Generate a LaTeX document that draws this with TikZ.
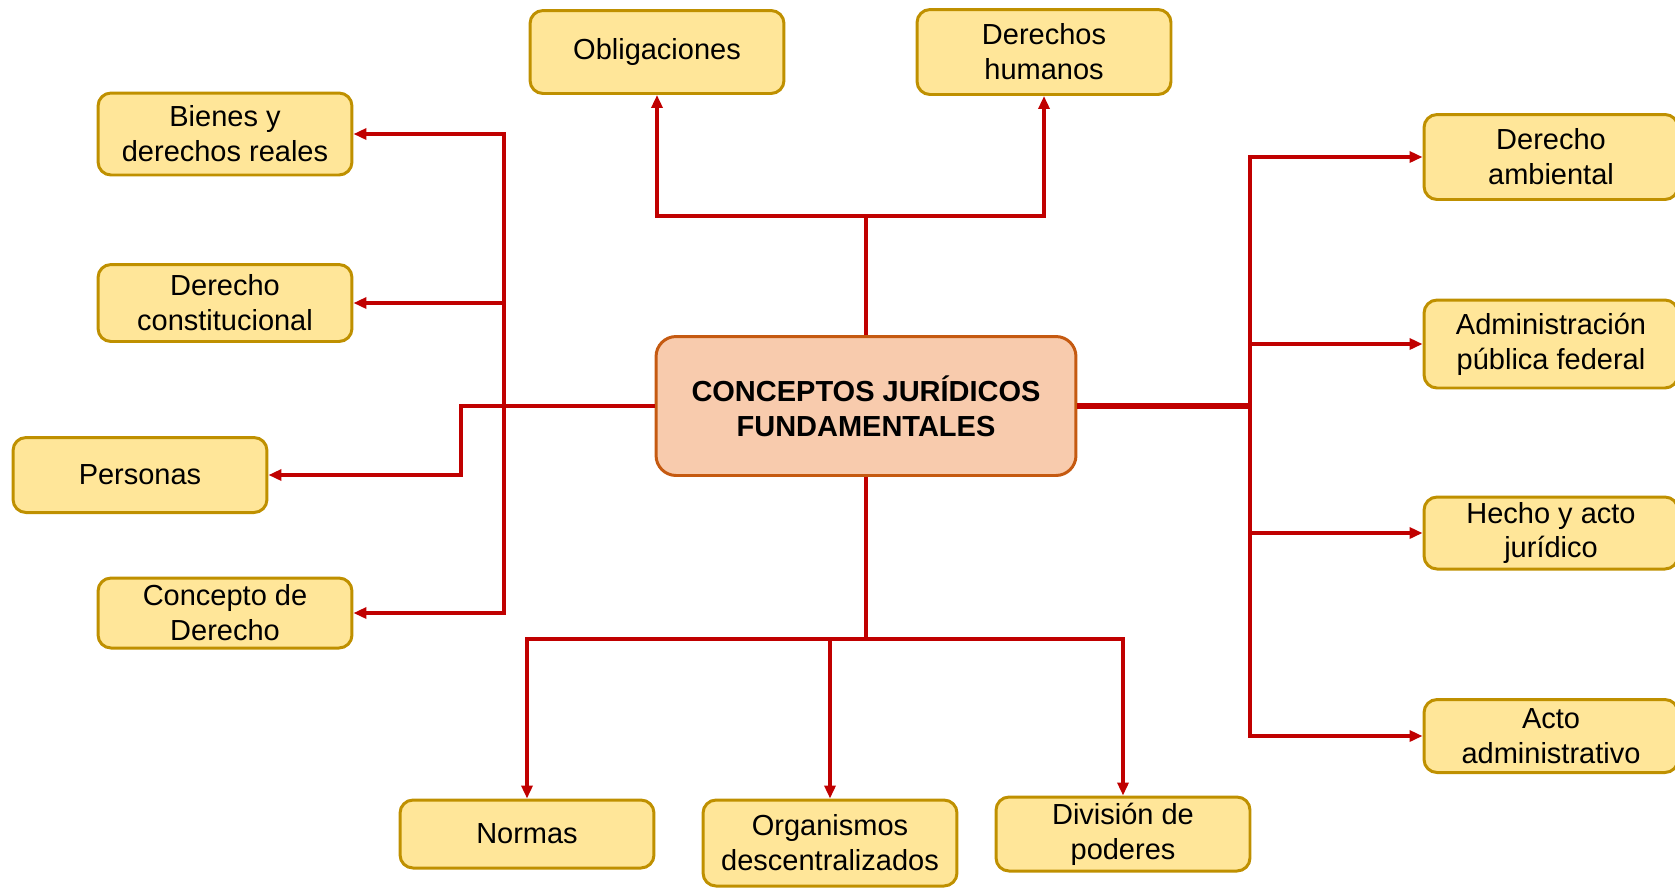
\documentclass[tikz,border=0pt]{standalone}
\usepackage{fontspec}
\setmainfont{Liberation Sans}
\usetikzlibrary{arrows.meta}

\definecolor{leaffill}{HTML}{FFE699}
\definecolor{leafline}{HTML}{BF9000}
\definecolor{corefill}{HTML}{F8CBAD}
\definecolor{coreline}{HTML}{C55A11}
\definecolor{linkred}{HTML}{C00000}

\tikzset{
  leaf/.style={draw=leafline, fill=leaffill, line width=1.7pt, rounded corners=0.26cm,
    minimum width=5.08cm, minimum height=1.5cm, align=center, inner sep=2pt,
    font=\fontsize{16.5}{19.9}\selectfont},
  core/.style={draw=coreline, fill=corefill, line width=1.7pt, rounded corners=0.4cm,
    minimum width=8.4cm, minimum height=2.78cm, align=center,
    font=\fontsize{16.5}{19.9}\selectfont\bfseries},
  link/.style={draw=linkred, line width=2.1pt, ->}
}

\begin{document}
\begin{tikzpicture}[x=0.02cm, y=-0.02cm, >={Triangle[length=0.26cm,width=0.22cm]}]
  \useasboundingbox (0,0) rectangle (1675,887);

  \node[core] (core) at (866,406) {CONCEPTOS JURÍDICOS\\FUNDAMENTALES};

  % arriba
  \node[leaf, minimum height=1.66cm] (oblig) at (657,52) {Obligaciones};
  \node[leaf, minimum height=1.7cm] (ddhh) at (1044,52) {Derechos\\humanos};

  % izquierda
  \node[leaf, minimum height=1.64cm] (bienes) at (225,134) {Bienes y\\derechos reales};
  \node[leaf, minimum height=1.54cm] (dconst) at (225,303) {Derecho\\constitucional};
  \node[leaf] (personas) at (140,475) {Personas};
  \node[leaf, minimum height=1.4cm] (concepto) at (225,613) {Concepto de\\Derecho};

  % derecha
  \node[leaf, minimum height=1.7cm] (damb) at (1551,157) {Derecho\\ambiental};
  \node[leaf, minimum height=1.76cm] (apf) at (1551,344) {Administración\\pública federal};
  \node[leaf, minimum height=1.44cm] (hecho) at (1551,533) {Hecho y acto\\jurídico};
  \node[leaf, minimum height=1.46cm] (acto) at (1551,736) {Acto\\administrativo};

  % abajo
  \node[leaf, minimum height=1.36cm] (normas) at (527,834) {Normas};
  \node[leaf, minimum height=1.72cm] (organ) at (830,843) {Organismos\\descentralizados};
  \node[leaf, minimum height=1.48cm] (divis) at (1123,834) {División de\\poderes};

  \coordinate (topj) at (866,216);
  \coordinate (lt) at (504,406);
  \coordinate (pj) at (461,406);
  \coordinate (rt) at (1250,406);
  \coordinate (bj) at (866,639);

  \draw[link] (core.north) -- (topj) -| (oblig.south);
  \draw[link] (topj) -| (ddhh.south);

  \draw[link] (core.west) -- (pj) |- (personas.east);
  \draw[link] (lt) |- (bienes.east);
  \draw[link] (lt) |- (dconst.east);
  \draw[link] (lt) |- (concepto.east);

  \draw[link, -, line width=3pt] (core.east) -- (rt);
  \draw[link] (rt) |- (damb.west);
  \draw[link] (rt) |- (apf.west);
  \draw[link] (rt) |- (hecho.west);
  \draw[link] (rt) |- (acto.west);

  \draw[link, -] (core.south) -- (bj);
  \draw[link] (bj) -| (normas.north);
  \draw[link] (bj) -| (organ.north);
  \draw[link] (bj) -| (divis.north);
\end{tikzpicture}
\end{document}
